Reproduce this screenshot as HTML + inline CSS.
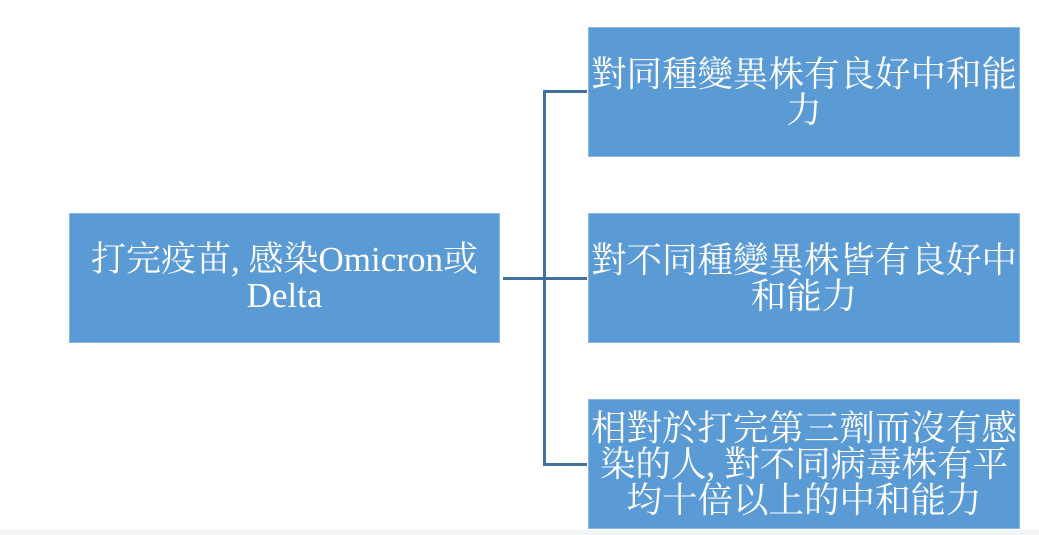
<!DOCTYPE html>
<html><head><meta charset="utf-8"><style>
body{margin:0;width:1039px;height:535px;background:#fff;position:relative;overflow:hidden}
.b{position:absolute;background:#5b9bd5;color:#fff;display:flex;align-items:center;justify-content:center;text-align:center;font-family:"Liberation Serif","Noto Serif CJK SC","Noto Sans CJK TC",serif;font-size:35.5px;line-height:36px;box-sizing:border-box;padding:0 1px;border:1px solid #8bb9e3}
.l{position:absolute;background:#41719c}
</style></head><body>
<div style="position:absolute;left:0;top:530px;width:1039px;height:5px;background:#f3f4f6"></div>
<div class="b" style="left:69px;top:213px;width:431px;height:130px;font-size:35px">打完疫苗, 感染Omicron或<br>Delta</div>
<div class="b" style="left:588px;top:27px;width:432px;height:130px">對同種變異株有良好中和能<br>力</div>
<div class="b" style="left:588px;top:213px;width:432px;height:130px">對不同種變異株皆有良好中<br>和能力</div>
<div class="b" style="left:588px;top:399px;width:432px;height:130px">相對於打完第三劑而沒有感<br>染的人, 對不同病毒株有平<br>均十倍以上的中和能力</div>
<div class="l" style="left:503px;top:277px;width:84px;height:3px"></div>
<div class="l" style="left:543px;top:90px;width:3px;height:376px"></div>
<div class="l" style="left:543px;top:90px;width:44px;height:3px"></div>
<div class="l" style="left:543px;top:463px;width:44px;height:3px"></div>
</body></html>
